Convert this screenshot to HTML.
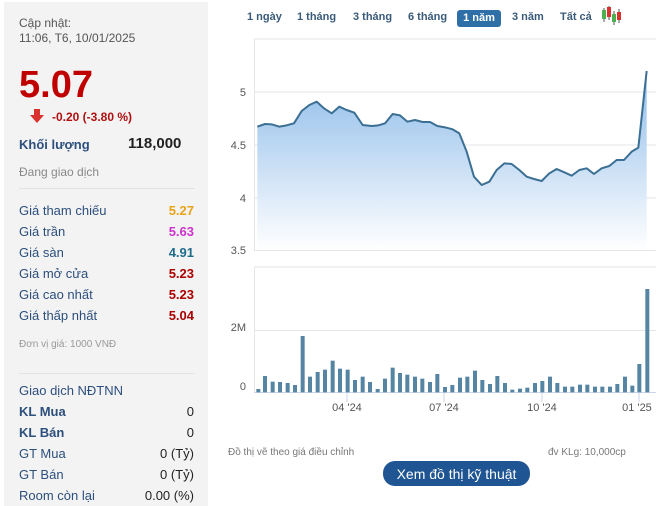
<!DOCTYPE html>
<html><head><meta charset="utf-8"><style>
body{margin:0;width:656px;height:506px;background:#fff;font-family:"Liberation Sans",Arial,sans-serif;position:relative;overflow:hidden}
.l{position:absolute;left:4px;top:2px;width:204px;height:504px;background:#f3f3f3}
.t{position:absolute;white-space:nowrap}
.lbl{color:#2c4f7c;font-size:13px}
.v{font-size:13px;font-weight:bold;text-align:right;right:0;width:80px}
.tab{position:absolute;top:11px;font-size:11px;font-weight:bold;color:#3a5a7a}
</style></head><body>
<div class="l">
<div class="t" style="left:15px;top:14px;font-size:12px;color:#555;line-height:15px">Cập nhật:<br>11:06, T6, 10/01/2025</div>
<div class="t" style="left:15px;top:62px;font-size:38px;font-weight:bold;color:#c00000">5.07</div>
<div class="t" style="left:26px;top:107px;width:14px;height:14px"><svg width="16" height="16"><rect x="4" y="0" width="6" height="7" fill="#d9312d"/><polygon points="0,6 14,6 7,14" fill="#d9312d"/></svg></div>
<div class="t" style="left:48px;top:108px;font-size:12px;font-weight:bold;color:#b01010">-0.20 (-3.80 %)</div>
<div class="t lbl" style="left:15px;top:135px;font-weight:bold">Khối lượng</div>
<div class="t" style="left:124px;top:133px;font-size:15px;font-weight:bold;color:#222">118,000</div>
<div class="t" style="left:15px;top:163px;font-size:12px;color:#888">Đang giao dịch</div>
<div class="t" style="left:15px;top:186px;width:176px;border-top:1px solid #e2e2e2"></div>
<div class="t lbl" style="left:15px;top:201px">Giá tham chiếu</div><div class="t v" style="right:14px;top:201px;color:#e8a317">5.27</div>
<div class="t lbl" style="left:15px;top:222px">Giá trần</div><div class="t v" style="right:14px;top:222px;color:#cc33cc">5.63</div>
<div class="t lbl" style="left:15px;top:243px">Giá sàn</div><div class="t v" style="right:14px;top:243px;color:#1f6b8a">4.91</div>
<div class="t lbl" style="left:15px;top:264px">Giá mở cửa</div><div class="t v" style="right:14px;top:264px;color:#a00">5.23</div>
<div class="t lbl" style="left:15px;top:285px">Giá cao nhất</div><div class="t v" style="right:14px;top:285px;color:#a00">5.23</div>
<div class="t lbl" style="left:15px;top:306px">Giá thấp nhất</div><div class="t v" style="right:14px;top:306px;color:#a00">5.04</div>
<div class="t" style="left:15px;top:337px;font-size:10px;color:#999">Đơn vị giá: 1000 VNĐ</div>
<div class="t" style="left:15px;top:371px;width:176px;border-top:1px solid #e2e2e2"></div>
<div class="t lbl" style="left:15px;top:381px">Giao dịch NĐTNN</div>
<div class="t lbl" style="left:15px;top:402px;font-weight:bold">KL Mua</div><div class="t v" style="right:14px;top:402px;color:#222;font-weight:normal">0</div>
<div class="t lbl" style="left:15px;top:423px;font-weight:bold">KL Bán</div><div class="t v" style="right:14px;top:423px;color:#222;font-weight:normal">0</div>
<div class="t lbl" style="left:15px;top:444px">GT Mua</div><div class="t v" style="right:14px;top:444px;color:#222;font-weight:normal">0 (Tỷ)</div>
<div class="t lbl" style="left:15px;top:465px">GT Bán</div><div class="t v" style="right:14px;top:465px;color:#222;font-weight:normal">0 (Tỷ)</div>
<div class="t lbl" style="left:15px;top:486px">Room còn lại</div><div class="t v" style="right:14px;top:486px;color:#222;font-weight:normal">0.00 (%)</div>
</div>

<div class="tab" style="left:247px">1 ngày</div>
<div class="tab" style="left:297px">1 tháng</div>
<div class="tab" style="left:353px">3 tháng</div>
<div class="tab" style="left:408px">6 tháng</div>
<div class="t" style="left:457px;top:10px;width:44px;height:17px;background:#2f6fa7;border-radius:3px;color:#fff;font-size:11px;font-weight:bold;text-align:center;line-height:17px">1 năm</div>
<div class="tab" style="left:512px">3 năm</div>
<div class="tab" style="left:560px">Tất cả</div>

<svg class="t" style="left:0;top:0" width="656" height="506">
<defs><linearGradient id="g" x1="0" y1="0" x2="0" y2="1"><stop offset="0" stop-color="#8dbbe9"/><stop offset="1" stop-color="#ffffff"/></linearGradient></defs>
<g>
<line x1="604" y1="8" x2="604" y2="22" stroke="#555"/><rect x="602" y="10" width="4" height="9" fill="#4caf50"/>
<line x1="609" y1="6" x2="609" y2="20" stroke="#555"/><rect x="607" y="7" width="4" height="10" fill="#d9312d"/>
<line x1="614" y1="11" x2="614" y2="25" stroke="#555"/><rect x="612" y="14" width="4" height="8" fill="#4caf50"/>
<line x1="619" y1="9" x2="619" y2="23" stroke="#555"/><rect x="617" y="12" width="4" height="8" fill="#d9312d"/>
</g>
<rect x="254" y="39" width="402" height="211" fill="none"/>
<line x1="254" y1="39" x2="656" y2="39" stroke="#e6e6e6"/>
<line x1="254.5" y1="39" x2="254.5" y2="251" stroke="#e6e6e6"/>
<line x1="254" y1="92" x2="656" y2="92" stroke="#e6e6e6"/>
<line x1="254" y1="145" x2="656" y2="145" stroke="#e6e6e6"/>
<line x1="254" y1="198" x2="656" y2="198" stroke="#e6e6e6"/>
<line x1="254" y1="250.5" x2="656" y2="250.5" stroke="#e6e6e6"/>
<g font-size="11" fill="#555" text-anchor="end">
<text x="246" y="96">5</text><text x="246" y="149">4.5</text><text x="246" y="202">4</text><text x="246" y="254">3.5</text>
<text x="246" y="331">2M</text><text x="246" y="390">0</text>
</g>
<g transform="translate(220,0) scale(0.33333)">
<path d="M112,380 L135,372 155,373 178,380 200,376 222,370 245,333 268,315 290,305 312,325 335,340 358,320 380,330 403,338 428,375 455,378 475,376 495,370 518,342 540,346 562,365 585,360 608,366 630,366 652,378 675,382 698,388 718,400 740,455 762,530 785,555 808,545 830,510 853,490 875,492 898,510 920,530 942,537 965,543 988,520 1010,507 1033,517 1055,527 1078,510 1100,505 1122,522 1145,505 1168,498 1190,480 1212,480 1235,455 1255,443 1280,213 L1280,750 L112,750 Z" fill="url(#g)"/>
<path d="M112,380 L135,372 155,373 178,380 200,376 222,370 245,333 268,315 290,305 312,325 335,340 358,320 380,330 403,338 428,375 455,378 475,376 495,370 518,342 540,346 562,365 585,360 608,366 630,366 652,378 675,382 698,388 718,400 740,455 762,530 785,555 808,545 830,510 853,490 875,492 898,510 920,530 942,537 965,543 988,520 1010,507 1033,517 1055,527 1078,510 1100,505 1122,522 1145,505 1168,498 1190,480 1212,480 1235,455 1255,443 1280,213" fill="none" stroke="#3b6f94" stroke-width="2" vector-effect="non-scaling-stroke" stroke-linejoin="round"/>
</g>
<line x1="254" y1="267" x2="656" y2="267" stroke="#e6e6e6"/>
<line x1="254.5" y1="267" x2="254.5" y2="392" stroke="#e6e6e6"/>
<line x1="254" y1="330.5" x2="656" y2="330.5" stroke="#e6e6e6"/>
<line x1="254" y1="392.5" x2="656" y2="392.5" stroke="#ccd6eb"/>
<g stroke="#ccd6eb"><line x1="347" y1="392" x2="347" y2="402"/><line x1="444" y1="392" x2="444" y2="402"/><line x1="542" y1="392" x2="542" y2="402"/><line x1="639" y1="392" x2="639" y2="402"/></g>
<g font-size="11" fill="#555" text-anchor="middle"><text x="347" y="411">04 '24</text><text x="444" y="411">07 '24</text><text x="542" y="411">10 '24</text><text x="637" y="411">01 '25</text></g>
<g transform="translate(220,260) scale(0.33333)" fill="#5585a2" id="bars">
</g>
<text x="228" y="455" font-size="10" fill="#777">Đồ thị vẽ theo giá điều chỉnh</text>
<text x="548" y="455" font-size="10" fill="#777">đv KLg: 10,000cp</text>
<rect x="383" y="461" width="147" height="25" rx="12" fill="#1f5593"/>
<text x="456.5" y="479" font-size="14" fill="#fff" text-anchor="middle">Xem đồ thị kỹ thuật</text>
</svg>
<script>
var d=[[115,387],[135,348],[158,365],[180,366],[203,369],[225,375],[248,228],[270,350],[293,336],[315,329],[338,302],[360,326],[383,329],[405,360],[428,350],[450,366],[473,387],[495,356],[518,323],[540,339],[562,344],[585,350],[607,356],[630,366],[652,342],[675,381],[697,375],[720,353],[742,350],[765,332],[787,360],[810,372],[832,348],[855,369],[877,389],[900,386],[922,383],[945,369],[967,363],[990,350],[1012,369],[1035,380],[1057,380],[1080,374],[1102,374],[1125,380],[1147,380],[1170,380],[1192,372],[1215,350],[1237,377],[1258,312],[1282,87]];
var g=document.getElementById('bars'),s='';
d.forEach(function(p){s+='<rect x="'+(p[0]-6)+'" y="'+p[1]+'" width="12" height="'+(397-p[1])+'"/>';});
g.innerHTML=s;
</script>
</body></html>
